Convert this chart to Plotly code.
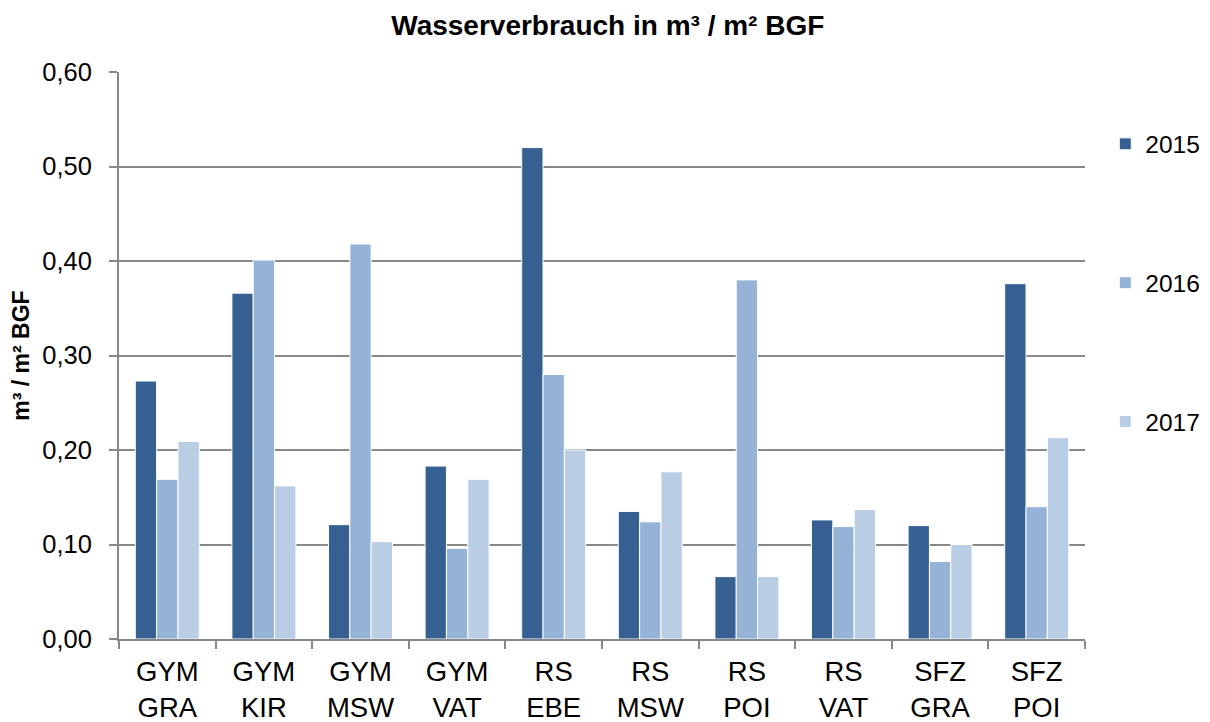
import plotly.graph_objects as go

categories = ["GYM<br>GRA", "GYM<br>KIR", "GYM<br>MSW", "GYM<br>VAT", "RS<br>EBE",
              "RS<br>MSW", "RS<br>POI", "RS<br>VAT", "SFZ<br>GRA", "SFZ<br>POI"]
v2015 = [0.273, 0.366, 0.121, 0.183, 0.520, 0.135, 0.066, 0.126, 0.120, 0.376]
v2016 = [0.169, 0.401, 0.418, 0.096, 0.280, 0.124, 0.380, 0.119, 0.082, 0.140]
v2017 = [0.209, 0.162, 0.103, 0.169, 0.200, 0.177, 0.066, 0.137, 0.100, 0.213]
series_names = ["2015", "2016", "2017"]
colors = ["#376092", "#95B3D7", "#B9CDE5"]

fig = go.Figure()
for name, vals, col in zip(series_names, [v2015, v2016, v2017], colors):
    fig.add_trace(go.Bar(x=categories, y=vals, name=name, legendgroup=name,
                         marker=dict(color=col, line=dict(color="white", width=1))))

font = "Liberation Sans, Arial, sans-serif"
W, H = 1202, 714  # page body has an 8px default margin
fig.update_layout(
    width=W, height=H,
    margin=dict(l=111, r=125, t=64, b=83, autoexpand=False),
    paper_bgcolor="white", plot_bgcolor="white",
    barmode="group", bargap=0.337, bargroupgap=0,
    separators=",.",
    font=dict(family=font, size=24, color="black"),
    title=dict(text="<b>Wasserverbrauch in m³ / m² BGF</b>", x=0.506, xanchor="center",
               xref="paper", y=1 - 17 / H, yanchor="middle", yref="container",
               font=dict(size=28, family=font)),
    legend=dict(x=1.021, xanchor="left", y=0.628, yanchor="middle",
                font=dict(size=24.5, family=font), tracegroupgap=104,
                itemwidth=30, bgcolor="rgba(0,0,0,0)"),
)
fig.update_xaxes(showline=True, linecolor="#888888", linewidth=2, automargin=False,
                 ticks="outside", tickson="boundaries", ticklen=8, tickcolor="#888888",
                 tickwidth=2, tickfont=dict(size=27.5, family=font), ticklabelstandoff=7)
fig.update_yaxes(range=[0, 0.6], dtick=0.1, tickformat=".2f", automargin=False,
                 showline=True, linecolor="#888888", linewidth=2,
                 ticks="outside", ticklen=8, tickcolor="#888888", tickwidth=2,
                 showgrid=True, gridcolor="#888888", gridwidth=1.5,
                 zeroline=False, tickfont=dict(size=25.5, family=font), ticklabelstandoff=12,
                 title=dict(text="<b>m³ / m² BGF</b>", font=dict(size=23, family=font),
                            standoff=9))

fig.write_html("out.html")
